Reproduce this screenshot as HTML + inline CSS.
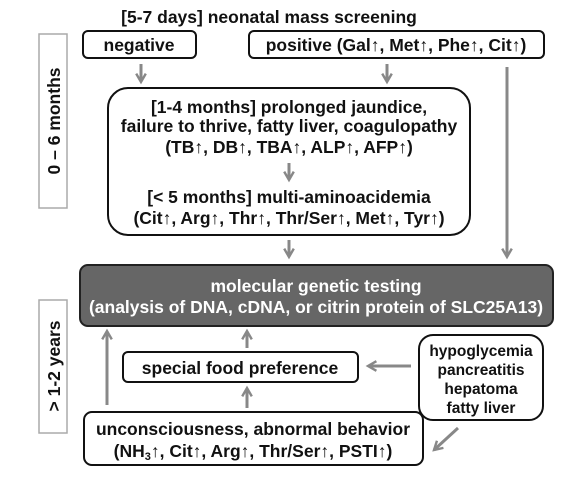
<!DOCTYPE html>
<html><head><meta charset="utf-8"><style>
body{margin:0;background:#fff}
svg{display:block}
text{font-family:"Liberation Sans",Arial,sans-serif;font-weight:bold;font-size:17.5px;text-anchor:middle;fill:#111}
.b{fill:#fff;stroke:#111;stroke-width:2}
.a{stroke:#888;stroke-width:3;fill:none}
</style></head><body>
<svg width="576" height="478" viewBox="0 0 576 478">
<defs><marker id="m" viewBox="0 0 10 10" refX="8" refY="5" markerWidth="4" markerHeight="4" orient="auto"><path d="M1,1 L8,5 L1,9" fill="none" stroke="#888" stroke-width="2"/></marker></defs>

<text x="269" y="23">[5-7 days] neonatal mass screening</text>

<rect x="39" y="34" width="28" height="174" fill="#fff" stroke="#aaa" stroke-width="1.5"/>
<text transform="translate(60,121) rotate(-90)">0 – 6 months</text>
<rect x="39" y="300" width="28" height="133" fill="#fff" stroke="#aaa" stroke-width="1.5"/>
<text transform="translate(60,366) rotate(-90)">&gt; 1-2 years</text>

<rect class="b" x="83" y="31" width="113" height="27" rx="5"/>
<text x="139" y="51">negative</text>
<rect class="b" x="249" y="31" width="295" height="27" rx="5"/>
<text x="396" y="51">positive (Gal↑, Met↑, Phe↑, Cit↑)</text>

<line class="a" x1="141" y1="64" x2="141" y2="82" marker-end="url(#m)"/>
<line class="a" x1="387" y1="64" x2="387" y2="82" marker-end="url(#m)"/>
<line class="a" x1="507" y1="67" x2="507" y2="257" marker-end="url(#m)"/>

<rect class="b" x="108" y="88" width="362" height="147" rx="20"/>
<g>
<text x="289" y="113">[1-4 months] prolonged jaundice,</text>
<text x="289" y="132">failure to thrive, fatty liver, coagulopathy</text>
<text x="289" y="153">(TB↑, DB↑, TBA↑, ALP↑, AFP↑)</text>
<text x="289" y="203">[&lt; 5 months] multi-aminoacidemia</text>
<text x="289" y="224">(Cit↑, Arg↑, Thr↑, Thr/Ser↑, Met↑, Tyr↑)</text>
</g>
<line class="a" x1="289" y1="163" x2="289" y2="180" marker-end="url(#m)"/>
<line class="a" x1="289" y1="240" x2="289" y2="257" marker-end="url(#m)"/>

<rect x="80" y="265" width="473" height="61" rx="8" fill="#666" stroke="#222" stroke-width="2"/>
<text x="316" y="292" style="fill:#fff">molecular genetic testing</text>
<text x="316" y="313" style="fill:#fff">(analysis of DNA, cDNA, or citrin protein of SLC25A13)</text>

<line class="a" x1="107" y1="405" x2="107" y2="331" marker-end="url(#m)"/>
<line class="a" x1="247" y1="348" x2="247" y2="331" marker-end="url(#m)"/>
<rect class="b" x="123" y="352" width="235" height="30" rx="5"/>
<text x="240" y="374">special food preference</text>
<line class="a" x1="247" y1="408" x2="247" y2="388" marker-end="url(#m)"/>
<line class="a" x1="411" y1="366" x2="368" y2="366" marker-end="url(#m)"/>

<rect class="b" x="419" y="335" width="124" height="85" rx="14"/>
<g style="font-size:15.5px">
<text x="481" y="356" style="font-size:15.5px">hypoglycemia</text>
<text x="481" y="375" style="font-size:15.5px">pancreatitis</text>
<text x="481" y="394" style="font-size:15.5px">hepatoma</text>
<text x="481" y="413" style="font-size:15.5px">fatty liver</text>
</g>
<line class="a" x1="458" y1="428" x2="434" y2="450" marker-end="url(#m)"/>

<rect class="b" x="84" y="412" width="339" height="53" rx="8"/>
<text x="253" y="435">unconsciousness, abnormal behavior</text>
<text x="253" y="457">(NH<tspan font-size="11" dy="3">3</tspan><tspan dy="-3">↑, Cit↑, Arg↑, Thr/Ser↑, PSTI↑)</tspan></text>
</svg>
</body></html>
